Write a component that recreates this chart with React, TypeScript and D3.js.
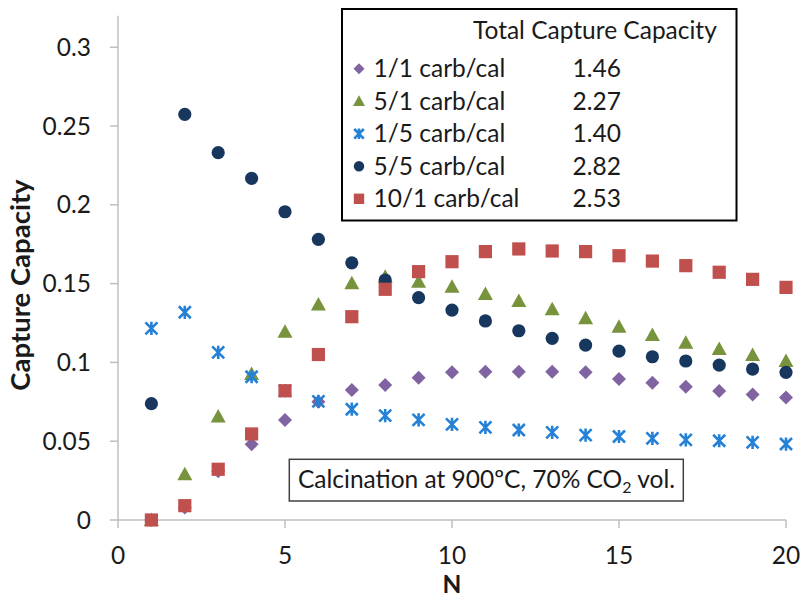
import React from "react";
import * as d3 from "d3";

const cycles = d3.range(1, 21);
const s11 = [0, 0.008, 0.031, 0.048, 0.0635, 0.075, 0.0825, 0.0857, 0.0903, 0.0937, 0.0941, 0.0941, 0.0941, 0.0937, 0.0895, 0.0871, 0.0846, 0.0819, 0.0797, 0.0778];
const s51 = [0, 0.029, 0.0656, 0.0926, 0.1195, 0.1368, 0.1502, 0.1544, 0.1512, 0.148, 0.1434, 0.139, 0.1337, 0.128, 0.1227, 0.1174, 0.1125, 0.1085, 0.1047, 0.1009];
const s15 = [0.1216, 0.1318, 0.1064, 0.0909, 0.082, 0.0753, 0.0703, 0.0662, 0.0635, 0.0607, 0.0588, 0.0571, 0.0556, 0.0539, 0.053, 0.0518, 0.0508, 0.0503, 0.0493, 0.0482];
const s55 = [0.0738, 0.2574, 0.2331, 0.2168, 0.1956, 0.1781, 0.1632, 0.1523, 0.1411, 0.1332, 0.1263, 0.1201, 0.1153, 0.111, 0.1072, 0.1036, 0.1009, 0.0983, 0.0958, 0.0937];
const s101 = [0, 0.0091, 0.0322, 0.0546, 0.082, 0.105, 0.129, 0.1464, 0.1576, 0.1639, 0.1703, 0.172, 0.1707, 0.1703, 0.1677, 0.1643, 0.1614, 0.1572, 0.1527, 0.1476];

const seriesNames = ["1/1 carb/cal", "5/1 carb/cal", "1/5 carb/cal", "5/5 carb/cal", "10/1 carb/cal"];
const totals = ["1.46", "2.27", "1.40", "2.82", "2.53"];
const seriesValues = [s11, s51, s15, s55, s101];
const shapes = ["diamond", "triangle", "star", "circle", "square"];
const colors = ["#8064A2", "#77933C", "#2481D6", "#17375E", "#C0504D"];

const xTicks = [0, 5, 10, 15, 20];
const yTicks = [0, 0.05, 0.1, 0.15, 0.2, 0.25, 0.3];

const FONT = "Lato, 'Open Sans', sans-serif";
const TXT = "#1a1a1a";
const FS = 24.5;

function markerPath(shape: string, s: number): string {
  switch (shape) {
    case "diamond":
      return `M0,${-s}L${s},0L0,${s}L${-s},0Z`;
    case "triangle":
      return `M0,${-s}L${s},${s * 0.8}L${-s},${s * 0.8}Z`;
    case "square":
      return `M${-s},${-s}H${s}V${s}H${-s}Z`;
    case "circle":
      return `M${s},0A${s},${s} 0 1,1 ${-s},0A${s},${s} 0 1,1 ${s},0Z`;
    case "star":
      return `M${-s},${-s}L${s},${s}M${s},${-s}L${-s},${s}M0,${-s * 1.1}L0,${s * 1.1}`;
  }
  return "";
}

function Marker({ shape, color, x, y, s }: { shape: string; color: string; x: number; y: number; s: number }) {
  const d = markerPath(shape, s);
  if (shape === "star") {
    return <path d={d} transform={`translate(${x},${y})`} stroke={color} strokeWidth={2.6} fill="none" />;
  }
  return <path d={d} transform={`translate(${x},${y})`} fill={color} />;
}

export default function App() {
  const x = d3.scaleLinear().domain([0, 20]).range([118, 786]);
  const y = d3.scaleLinear().domain([0, 0.32]).range([520, 15.7]);
  const sizes: Record<string, number> = { diamond: 7, triangle: 7.5, star: 6, circle: 6.6, square: 6.6 };
  const legSizes: Record<string, number> = { diamond: 5.5, triangle: 6, star: 4.8, circle: 5.2, square: 5.2 };
  const fmt = (v: number) => (v === 0 ? "0" : d3.format("")(+v.toFixed(2)));

  return (
    <svg width={801} height={601} style={{ position: "absolute", left: 0, top: 0, background: "#fff" }} fontFamily={FONT}>
      <rect x={0} y={0} width={801} height={601} fill="#fff" />
      <line x1={x(0)} x2={x(0)} y1={y(0.32)} y2={y(0)} stroke="#bfbfbf" strokeWidth={1.5} />
      <line x1={x(0)} x2={x(20)} y1={y(0)} y2={y(0)} stroke="#bfbfbf" strokeWidth={1.5} />
      {yTicks.map((t) => (
        <g key={"y" + t}>
          <line x1={x(0) - 8} x2={x(0)} y1={y(t)} y2={y(t)} stroke="#bfbfbf" strokeWidth={1.5} />
          <text x={91} y={y(t)} dy="0.35em" textAnchor="end" fontSize={FS} fill={TXT}>
            {fmt(t)}
          </text>
        </g>
      ))}
      {xTicks.map((t) => (
        <g key={"x" + t}>
          <line x1={x(t)} x2={x(t)} y1={y(0)} y2={y(0) + 8} stroke="#bfbfbf" strokeWidth={1.5} />
          <text x={x(t)} y={564} textAnchor="middle" fontSize={FS} fill={TXT}>
            {t}
          </text>
        </g>
      ))}
      <text x={452} y={593} textAnchor="middle" fontSize={FS} fontWeight="bold" fill={TXT}>
        N
      </text>
      <text transform={`translate(30,285) rotate(-90)`} textAnchor="middle" fontSize={27.5} fontWeight="bold" fill={TXT}>
        Capture Capacity
      </text>

      {seriesValues.map((vals, si) => (
        <g key={"s" + si}>
          {vals.map((v, i) => (
            <Marker key={i} shape={shapes[si]} color={colors[si]} x={x(cycles[i])} y={y(v)} s={sizes[shapes[si]]} />
          ))}
        </g>
      ))}

      <rect x={342} y={9} width={394.5} height={211.5} fill="#fff" stroke="#000" strokeWidth={2} />
      <text x={473} y={38.5} fontSize={FS} fill={TXT}>
        Total Capture Capacity
      </text>
      {seriesNames.map((n, i) => {
        const by = 77.3 + i * 32.5;
        return (
          <g key={"l" + i}>
            <Marker shape={shapes[i]} color={colors[i]} x={359} y={by - 8.5} s={legSizes[shapes[i]]} />
            <text x={373.5} y={by} fontSize={FS} fill={TXT}>
              {n}
            </text>
            <text x={572.5} y={by} fontSize={FS} fill={TXT}>
              {totals[i]}
            </text>
          </g>
        );
      })}

      <rect x={289.3} y={459.3} width={394} height={41.7} fill="#fff" stroke="#404040" strokeWidth={1.5} />
      <text x={298} y={488.3} fontSize={FS} fill={TXT}>
        Calcination at 900ºC, 70% CO
        <tspan fontSize={16} dy={5}>2</tspan>
        <tspan dy={-5}> vol.</tspan>
      </text>
    </svg>
  );
}
